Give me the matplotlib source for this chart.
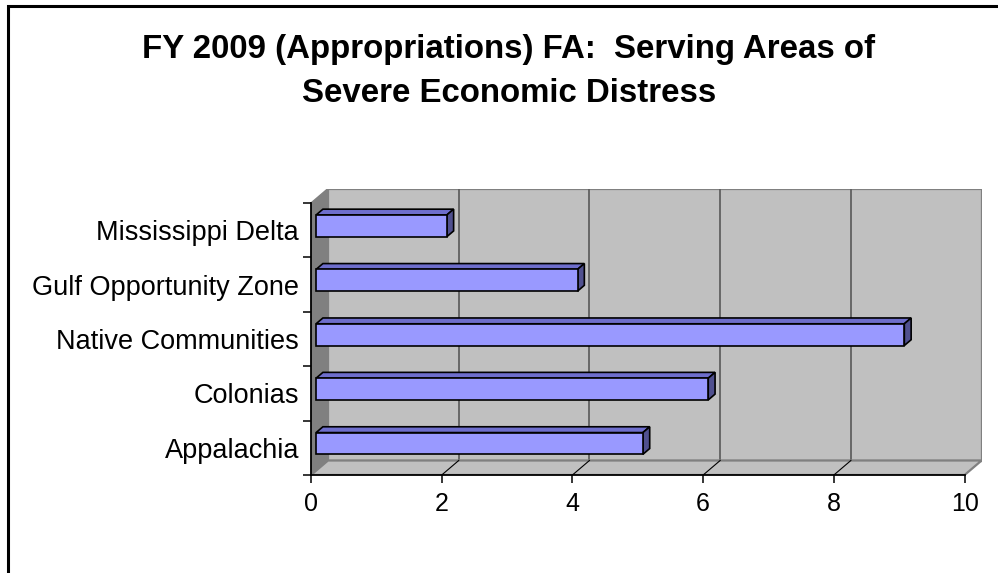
import matplotlib.pyplot as plt
from matplotlib.patches import Polygon, Rectangle

plt.rcParams['font.family'] = ['Liberation Sans', 'DejaVu Sans']

categories = ["Appalachia", "Colonias", "Native Communities",
              "Gulf Opportunity Zone", "Mississippi Delta"]
values = [5, 6, 9, 4, 2]
xticks = [0, 2, 4, 6, 8, 10]
title_lines = ["FY 2009 (Appropriations) FA:  Serving Areas of",
               "Severe Economic Distress"]

W, H = 998, 573
fig = plt.figure(figsize=(W / 100, H / 100), dpi=100)

# frame of the chart area (only left and top edges are inside the picture)
fig.patches.append(Rectangle((8 / W, -0.1), 1.2, (H - 6) / H + 0.1,
                             transform=fig.transFigure, fill=False,
                             edgecolor='black', linewidth=2.2))

for i, line in enumerate(title_lines):
    fig.text(509 / W, 1 - (58 + 44 * i) / H, line, ha='center',
             va='baseline', fontsize=23.8, fontweight='bold')

# pseudo-3d geometry (pixels -> data units)
px_x = 65.36
px_y = 54.4
dxu = 17 / px_x
dyu = 14.5 / px_y
x_max = 10
ax = fig.add_axes([311 / W, (H - 475) / H, (x_max * px_x + 17) / W,
                   (5 * px_y + 14.5) / H])
ax.set_xlim(0, x_max + dxu)
ax.set_ylim(-0.5, 4.5 + dyu)
ax.set_facecolor('none')

y0, y1 = -0.5, 4.5
# back wall
ax.add_patch(Rectangle((dxu, y0 + dyu), x_max, y1 - y0, facecolor='#C0C0C0',
                       edgecolor='#808080', linewidth=1.6, zorder=1))
for x in xticks[1:-1]:
    ax.plot([x + dxu, x + dxu], [y0 + dyu, y1 + dyu], color='#606060',
            linewidth=1.3, zorder=2)
# left wall
ax.add_patch(Polygon([(0, y0), (0, y1), (dxu, y1 + dyu), (dxu, y0 + dyu)],
                     closed=True, facecolor='#808080', edgecolor='#808080',
                     linewidth=1, zorder=2))
# floor
ax.add_patch(Polygon([(0, y0), (x_max, y0), (x_max + dxu, y0 + dyu),
                      (dxu, y0 + dyu)], closed=True, facecolor='#C0C0C0',
                     edgecolor='#808080', linewidth=1.6, zorder=3))
for x in xticks[1:-1]:
    ax.plot([x, x + dxu], [y0, y0 + dyu], color='black', linewidth=0.8,
            zorder=3.5)

# bars
h = 0.40
f0, d = 0.3, 0.4
for i, v in enumerate(values):
    x0 = f0 * dxu
    b = i - h / 2 + f0 * dyu
    t = i + h / 2 + f0 * dyu
    ddx, ddy = d * dxu, d * dyu
    ax.add_patch(Polygon([(x0, t), (x0 + v, t), (x0 + v + ddx, t + ddy),
                          (x0 + ddx, t + ddy)], closed=True,
                         facecolor='#6E6ECC', edgecolor='black',
                         linewidth=1.2, zorder=4))
    ax.add_patch(Polygon([(x0 + v, b), (x0 + v, t), (x0 + v + ddx, t + ddy),
                          (x0 + v + ddx, b + ddy)], closed=True,
                         facecolor='#50508F', edgecolor='black',
                         linewidth=1.2, zorder=4))
    ax.add_patch(Rectangle((x0, b), v, h, facecolor='#9999FF',
                           edgecolor='black', linewidth=1.2, zorder=5))

# axes
for s in ['top', 'right']:
    ax.spines[s].set_visible(False)
ax.spines['left'].set_bounds(y0, y1)
ax.spines['bottom'].set_bounds(0, x_max)
for s in ['left', 'bottom']:
    ax.spines[s].set_linewidth(1.3)
    ax.spines[s].set_zorder(6)

ax.set_xticks(xticks)
ax.set_xticklabels([str(x) for x in xticks], fontsize=18)
ax.tick_params(axis='x', length=6, width=1.1, pad=6)

ax.set_yticks(range(len(categories)))
ax.set_yticklabels(categories, fontsize=19.5)
ax.set_yticks([y0 + k for k in range(len(categories) + 1)], minor=True)
ax.tick_params(axis='y', which='major', length=0, pad=8.6)
ax.tick_params(axis='y', which='minor', length=6, width=1.1)

fig.savefig('out.png', dpi=100)
